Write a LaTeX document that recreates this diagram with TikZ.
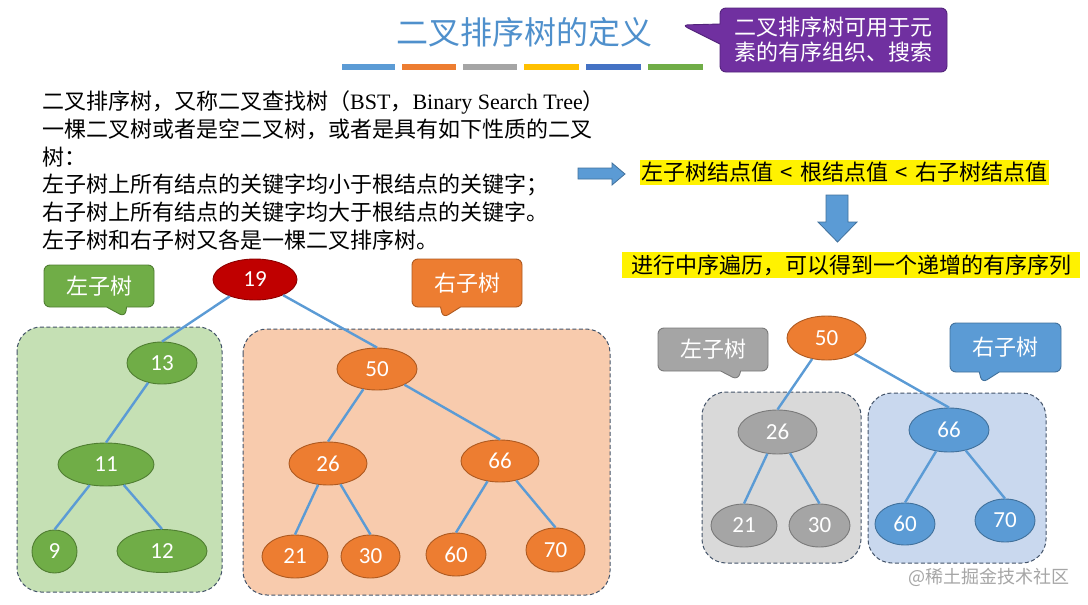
\documentclass[tikz,border=0pt]{standalone}
\usepackage{fontspec}
\setmainfont{Noto Sans CJK SC}
\newfontfamily\latfont{Liberation Serif}
\newfontfamily\numfont{Carlito}
\usetikzlibrary{shapes.geometric,shapes.callouts}
\definecolor{cblue}{HTML}{5B9BD5}
\definecolor{cblueD}{HTML}{41719C}
\definecolor{corange}{HTML}{ED7D31}
\definecolor{corangeD}{HTML}{AE5A21}
\definecolor{cgray}{HTML}{A5A5A5}
\definecolor{cgrayD}{HTML}{7A7A7A}
\definecolor{cgold}{HTML}{FFC000}
\definecolor{cdblue}{HTML}{4472C4}
\definecolor{cgreen}{HTML}{70AD47}
\definecolor{cgreenD}{HTML}{507E32}
\definecolor{cred}{HTML}{C00000}
\definecolor{credD}{HTML}{8C0000}
\definecolor{cpurple}{HTML}{7030A0}
\definecolor{cpurpleD}{HTML}{52237A}
\definecolor{ctitle}{HTML}{4F90CC}
\definecolor{rgreen}{HTML}{C5E0B4}
\definecolor{rorange}{HTML}{F8CBAD}
\definecolor{rgray}{HTML}{D9D9D9}
\definecolor{rblue}{HTML}{C9D8EE}
\definecolor{rborder}{HTML}{44546A}
\definecolor{cwater}{HTML}{A6A6A6}
\begin{document}
\begin{tikzpicture}[x=1pt,y=-1pt,
  txt/.style={anchor=west, inner sep=0pt, font=\fontsize{22}{22}\selectfont},
  bn/.style={ellipse, inner sep=0pt, line width=0.9pt, text=white, font=\numfont\fontsize{23}{23}\selectfont},
  sz/.style 2 args={minimum width=#1pt, minimum height=#2pt},
  gn/.style={bn, fill=cgreen, draw=cgreenD},
  on/.style={bn, fill=corange, draw=corangeD},
  rn/.style={bn, fill=cred, draw=credD},
  yn/.style={bn, fill=cgray, draw=cgrayD},
  ln/.style={bn, fill=cblue, draw=cblueD},
  conn/.style={draw=cblue, line width=2.4pt},
  region/.style={draw=rborder, line width=1pt, dash pattern=on 4pt off 2.5pt, rounded corners=24pt},
  callbox/.style={rectangle callout, rounded corners=6pt, line width=0.9pt, callout pointer width=20pt, text=white, inner sep=0pt, font=\fontsize{22}{25}\selectfont},
  hl/.style={fill=yellow, inner sep=0pt, font=\fontsize{22}{22}\selectfont},
  arr/.style={fill=cblue, draw=cblueD, line width=0.8pt}
]
\path[use as bounding box, fill=white] (0,0) rectangle (1088,605);

% title
\node[text=ctitle, font=\fontsize{32}{32}\selectfont, inner sep=0pt] (title) at (524,32) {二叉排序树的定义};
\fill[cblue]   (342,63.5) rectangle (395,70);
\fill[corange] (402,63.5) rectangle (456,70);
\fill[cgray]   (463,63.5) rectangle (517,70);
\fill[cgold]   (524,63.5) rectangle (579,70);
\fill[cdblue]  (586,63.5) rectangle (641,70);
\fill[cgreen]  (648,63.5) rectangle (703,70);

\node[callbox, fill=cpurple, draw=cpurpleD, sz={227}{64}, align=left,
  callout absolute pointer={(682,25)}] (pc) at (833.5,40) {二叉排序树可用于元\\素的有序组织、搜索};

% text block
\node[txt] (t1) at (42,102) {二叉排序树，又称二叉查找树（{\latfont BST}，{\latfont Binary Search Tree}）};
\node[txt] (t2) at (42,129.5) {一棵二叉树或者是空二叉树，或者是具有如下性质的二叉};
\node[txt] (t3) at (42,157) {树：};
\node[txt] (t4) at (42,185) {左子树上所有结点的关键字均小于根结点的关键字；};
\node[txt] (t5) at (42,212.5) {右子树上所有结点的关键字均大于根结点的关键字。};
\node[txt] (t6) at (42,240) {左子树和右子树又各是一棵二叉排序树。};

% arrows and highlighted statements
\draw[arr] (578,168) -- (612,168) -- (612,163) -- (625,174) -- (612,185) -- (612,179) -- (578,179) -- cycle;
\node[hl, sz={409}{25}] (h1) at (844.5,172.5) {左子树结点值\,\,<\,\,根结点值\,\,<\,\,右子树结点值};
\draw[arr] (826,195) -- (848,195) -- (848,222) -- (857,222) -- (837.5,242) -- (818,222) -- (826,222) -- cycle;
\node[hl, sz={458}{26}] (h2) at (851,265) {进行中序遍历，可以得到一个递增的有序序列};

% left picture: regions
\draw[region, fill=rgreen] (17,327) rectangle (222,592);
\draw[region, fill=rorange] (243,329) rectangle (610,595);

\node[callbox, fill=cgreen, draw=cgreenD, sz={110}{42}, callout absolute pointer={(125,317)}] (cl) at (99,286) {左子树};
\node[callbox, fill=corange, draw=corangeD, sz={110}{48}, callout absolute pointer={(443,318)}] (cr) at (467,283) {右子树};

% left picture: nodes
\node[rn, sz={84}{41}] (a19) at (255,279.5) {19};
\node[gn, sz={70}{42}] (a13) at (162,363) {13};
\node[gn, sz={96}{43}] (a11) at (106,464.5) {11};
\node[gn, sz={45}{43}] (a9)  at (54.5,551.5) {9};
\node[gn, sz={90}{43}] (a12) at (162,551) {12};
\node[on, sz={80}{42}] (a50) at (377,369) {50};
\node[on, sz={78}{43}] (a26) at (328,463.5) {26};
\node[on, sz={78}{42}] (a66) at (500,461) {66};
\node[on, sz={66}{43}] (a21) at (295,556.5) {21};
\node[on, sz={59}{43}] (a30) at (370.5,556.5) {30};
\node[on, sz={60}{43}] (a60) at (456,554.5) {60};
\node[on, sz={59}{44}] (a70) at (555.5,550) {70};

\draw[conn] (a19) -- (a13.north);
\draw[conn] (a19) -- (a50.north);
\draw[conn] (a13) -- (a11.north);
\draw[conn] (a11) -- (a9.north);
\draw[conn] (a11) -- (a12.north);
\draw[conn] (a50) -- (a26.north);
\draw[conn] (a50) -- (a66.north);
\draw[conn] (a26) -- (a21.north);
\draw[conn] (a26) -- (a30.north);
\draw[conn] (a66) -- (a60.north);
\draw[conn] (a66) -- (a70.north);

% right picture
\draw[region, fill=rgray] (702,392) rectangle (861,563);
\draw[region, fill=rblue] (868,393) rectangle (1046,563);

\node[callbox, fill=cgray, draw=cgrayD, sz={110}{43}, callout absolute pointer={(738,380)}] (gl) at (713,349.5) {左子树};
\node[callbox, fill=cblue, draw=cblueD, sz={111}{49}, callout absolute pointer={(982,383)}] (gr) at (1005.5,347.5) {右子树};

\node[on, sz={79}{44}] (b50) at (826.5,338) {50};
\node[yn, sz={79}{44}] (b26) at (777.5,432) {26};
\node[ln, sz={80}{44}] (b66) at (949,430) {66};
\node[yn, sz={66}{43}] (b21) at (744,525.5) {21};
\node[yn, sz={61}{43}] (b30) at (819.5,525.5) {30};
\node[ln, sz={60}{42}] (b60) at (905,524) {60};
\node[ln, sz={60}{43}] (b70) at (1005,520.5) {70};

\draw[conn] (b50) -- (b26.north);
\draw[conn] (b50) -- (b66.north);
\draw[conn] (b26) -- (b21.north);
\draw[conn] (b26) -- (b30.north);
\draw[conn] (b66) -- (b60.north);
\draw[conn] (b66) -- (b70.north);

\node[text=cwater, font=\fontsize{18}{18}\selectfont, inner sep=0pt] (wm) at (989,577) {@稀土掘金技术社区};
\end{tikzpicture}
\end{document}
